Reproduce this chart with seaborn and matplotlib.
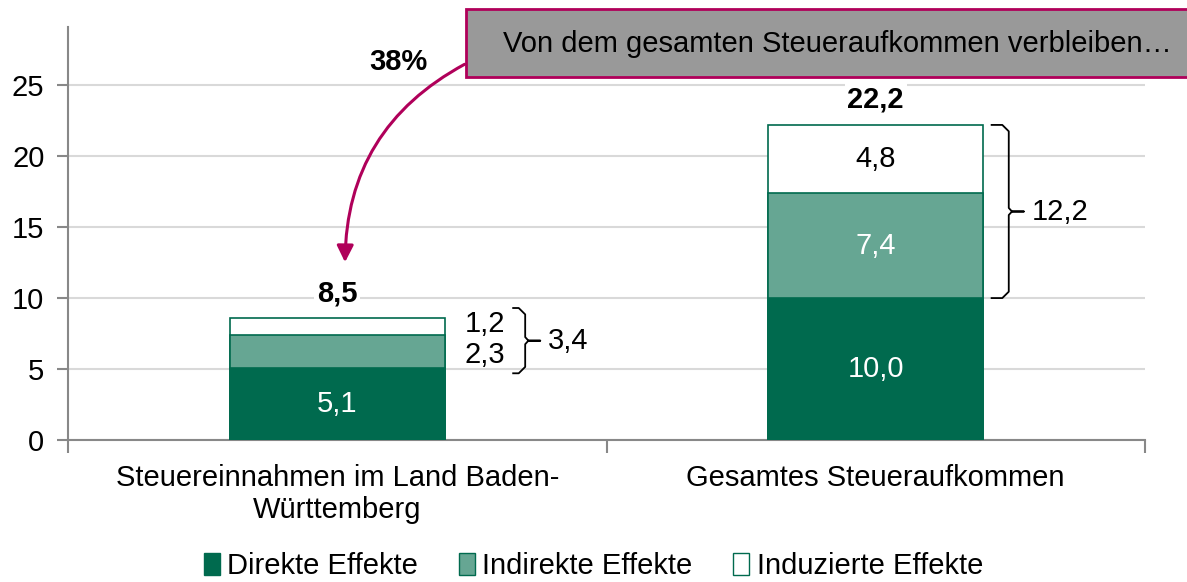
import matplotlib
matplotlib.use("Agg")
import matplotlib.pyplot as plt
from matplotlib.patches import Rectangle, Patch, FancyArrowPatch
import numpy as np
import pandas as pd
import seaborn as sns

categories = ["Steuereinnahmen im Land Baden-\nWürttemberg", "Gesamtes Steueraufkommen"]
direkt = [5.1, 10.0]
indirekt = [2.3, 7.4]
induziert = [1.2, 4.8]
totals = [8.5, 22.2]
sub_totals = ["3,4", "12,2"]
share_label = "38%"
box_text = "Von dem gesamten Steueraufkommen verbleiben…"
legend_labels = ["Direkte Effekte", "Indirekte Effekte", "Induzierte Effekte"]

c_dark = "#006a4e"
c_mid = "#66a693"
c_white = "#ffffff"
c_red = "#b0005a"
fs = 21

sns.set_style("white")
plt.rcParams["font.family"] = ["Liberation Sans", "DejaVu Sans"]
plt.rcParams["text.color"] = "black"
plt.rcParams["xtick.color"] = "black"
plt.rcParams["ytick.color"] = "black"

df = pd.DataFrame({"cat": categories, "direkt": direkt,
                   "indirekt": indirekt, "induziert": induziert})
df["lvl1"] = df["direkt"]
df["lvl2"] = df["direkt"] + df["indirekt"]
df["lvl3"] = df["lvl2"] + df["induziert"]

fig = plt.figure(figsize=(11.87, 5.82), dpi=100)
ax = fig.add_axes([68 / 1187, 1 - 440 / 582, (1145 - 68) / 1187, (440 - 27) / 582])

# stacked bars drawn as overlaid cumulative bars
for col, color in [("lvl3", c_white), ("lvl2", c_mid), ("lvl1", c_dark)]:
    sns.barplot(data=df, x="cat", y=col, color=color, width=0.4,
                edgecolor=c_dark, linewidth=1.2, saturation=1, ax=ax, zorder=3)

ax.set_xlim(-0.5, 1.5)
ax.set_ylim(0, 29.1)
ax.set_xlabel("")
ax.set_ylabel("")
ax.set_yticks([0, 5, 10, 15, 20, 25])
ax.yaxis.grid(True, color="#d9d9d9", linewidth=1.5, zorder=0)
ax.set_axisbelow(True)
ax.tick_params(axis="y", left=True, labelsize=fs, length=8, color="#888888",
               labelcolor="black", width=1.5, pad=9)

ax.set_xticks([-0.5, 0.5, 1.5])
ax.set_xticklabels([])
ax.tick_params(axis="x", which="major", bottom=True, length=9, color="#888888",
               width=1.5, direction="out")
ax.set_xticks([0, 1], minor=True)
ax.set_xticklabels(categories, minor=True, fontsize=fs, linespacing=1.2)
ax.tick_params(axis="x", which="minor", bottom=True, length=0, pad=17, labelcolor="black")

for s in ["top", "right"]:
    ax.spines[s].set_visible(False)
for s in ["left", "bottom"]:
    ax.spines[s].set_color("#888888")
    ax.spines[s].set_linewidth(1.5)

def fmt(v):
    return f"{v:.1f}".replace(".", ",")

# value labels
for i in range(2):
    ax.text(i, direkt[i] / 2, fmt(direkt[i]), ha="center", va="center",
            color="white", fontsize=fs, zorder=5)
    ax.text(i, totals[i] + 1.8, fmt(totals[i]), ha="center", va="center",
            fontsize=fs, fontweight="bold", zorder=5,
            bbox=dict(facecolor="white", edgecolor="none", pad=2))

ax.text(1, direkt[1] + indirekt[1] / 2, fmt(indirekt[1]), ha="center", va="center",
        color="white", fontsize=fs, zorder=5)
ax.text(1, direkt[1] + indirekt[1] + induziert[1] / 2, fmt(induziert[1]),
        ha="center", va="center", color="black", fontsize=fs, zorder=5)

# small segments of the left bar labelled outside
ax.text(0.312, 8.2, fmt(induziert[0]), ha="right", va="center", fontsize=fs)
ax.text(0.312, 6.0, fmt(indirekt[0]), ha="right", va="center", fontsize=fs)

def brace(x0, x1, x2, ybot, ytop, label):
    ymid = (ybot + ytop) / 2
    r = 0.012
    ry = 0.45
    xs = [x0, x1 - r, x1, x1, x1 + 0.006, x2, x1 + 0.006, x1, x1, x1 - r, x0]
    ys = [ytop, ytop, ytop - ry, ymid + 0.25, ymid, ymid, ymid, ymid - 0.25,
          ybot + ry, ybot, ybot]
    ax.plot(xs, ys, color="black", lw=1.3, solid_capstyle="butt", zorder=4, clip_on=False)
    ax.text(x2 + 0.015, ymid, label, ha="left", va="center", fontsize=fs)

brace(0.325, 0.349, 0.377, 4.7, 9.3, sub_totals[0])
brace(1.2135, 1.247, 1.275, direkt[1], totals[1], sub_totals[1])

# annotation box + arrow
fig.add_artist(Rectangle((466 / 1187, 1 - 77 / 582), 760 / 1187, 68 / 582,
                         transform=fig.transFigure, facecolor="#999999",
                         edgecolor=c_red, linewidth=2, clip_on=False, zorder=6))
fig.text(837 / 1187, 1 - 44 / 582, box_text, ha="center", va="center", fontsize=fs,
         zorder=7)
fig.text(398 / 1187, 1 - 62 / 582, share_label, ha="center", va="center",
         fontsize=fs, fontweight="bold")

arrow = FancyArrowPatch(posA=(467 / 1187, 1 - 63 / 582), posB=(345 / 1187, 1 - 265 / 582),
                        transform=fig.transFigure, connectionstyle="arc3,rad=0.3",
                        arrowstyle="-|>,head_length=10,head_width=5", color=c_red,
                        linewidth=2.2, mutation_scale=1, zorder=5)
fig.add_artist(arrow)

handles = [Patch(facecolor=c_dark, edgecolor=c_dark),
           Patch(facecolor=c_mid, edgecolor=c_dark),
           Patch(facecolor=c_white, edgecolor=c_dark)]
fig.legend(handles, legend_labels, loc="center", bbox_to_anchor=(0.5, 1 - 566 / 582),
           ncol=3, frameon=False, fontsize=fs, handlelength=0.55, handleheight=0.8,
           handletextpad=0.25, columnspacing=1.4, borderpad=0)

fig.savefig("out.png", dpi=100)
